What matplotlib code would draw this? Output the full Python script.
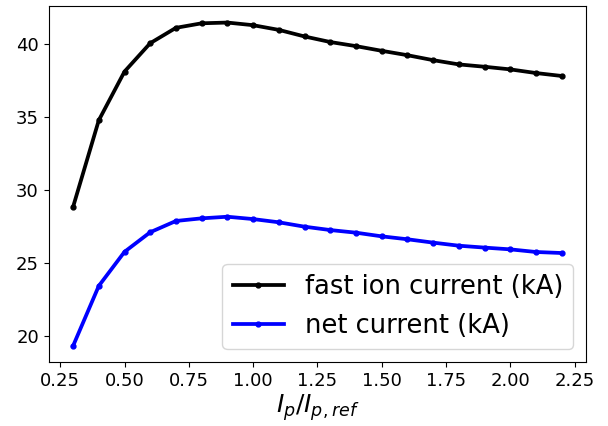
import matplotlib
matplotlib.use("Agg")
import matplotlib.pyplot as plt

# data
ip_ratio = [0.3, 0.4, 0.5, 0.6, 0.7, 0.8, 0.9, 1.0, 1.1, 1.2,
            1.3, 1.4, 1.5, 1.6, 1.7, 1.8, 1.9, 2.0, 2.1, 2.2]
fast_ion_current = [28.85, 34.77, 38.1, 40.04, 41.09, 41.4, 41.45, 41.27, 40.95, 40.5,
                    40.12, 39.84, 39.52, 39.22, 38.88, 38.59, 38.43, 38.25, 38.0, 37.8]
net_current = [19.35, 23.45, 25.78, 27.12, 27.89, 28.07, 28.18, 28.02, 27.8, 27.5,
               27.27, 27.09, 26.84, 26.64, 26.41, 26.2, 26.07, 25.95, 25.77, 25.7]

fig, ax = plt.subplots(figsize=(6.08, 4.26), dpi=100)

ax.plot(ip_ratio, fast_ion_current, color="black", marker=".", markersize=7,
        linewidth=2.7, label="fast ion current (kA)")
ax.plot(ip_ratio, net_current, color="blue", marker=".", markersize=7,
        linewidth=2.7, label="net current (kA)")

ax.set_xlabel(r"$I_p/I_{p,ref}$", fontsize=18, labelpad=2)
ax.tick_params(labelsize=13)
ax.legend(loc="lower right", fontsize=18.5)

fig.subplots_adjust(left=0.08, right=0.964, top=0.985, bottom=0.15)
fig.savefig("out.png", dpi=100)
